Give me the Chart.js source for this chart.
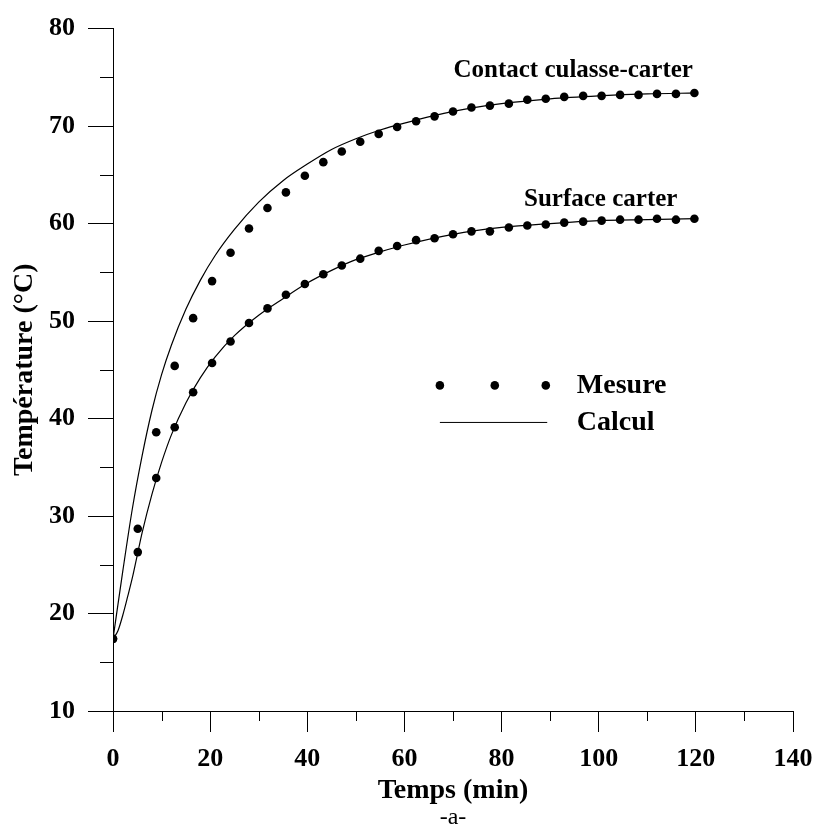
<!DOCTYPE html>
<html>
<head>
<meta charset="utf-8">
<script src="https://cdn.jsdelivr.net/npm/chart.js@4.4.1/dist/chart.umd.min.js"></script>
<style>
  body { margin: 0; background: #fff; }
  canvas { display: block; }
</style>
</head>
<body>
<canvas id="graphique" width="815" height="835"></canvas>
<script>
    // mesures (points)
    const tempsMesure = [0, 5.1, 8.9, 12.7, 16.5, 20.4, 24.2, 28.0, 31.8, 35.6, 39.5, 43.3, 47.1, 50.9, 54.7, 58.5,
        62.4, 66.2, 70.0, 73.8, 77.6, 81.5, 85.3, 89.1, 92.9, 96.8, 100.6, 104.4, 108.2, 112.0, 115.9, 119.7];
    const contactMesure = [17.4, 28.7, 38.6, 45.4, 50.3, 54.1, 57.0, 59.5, 61.6, 63.2, 64.9, 66.3, 67.4, 68.4, 69.2, 69.9,
        70.5, 71.0, 71.5, 71.9, 72.1, 72.3, 72.7, 72.8, 73.0, 73.1, 73.1, 73.2, 73.2, 73.3, 73.3, 73.4];
    const surfaceMesure = [17.4, 26.3, 33.9, 39.1, 42.7, 45.7, 47.9, 49.8, 51.3, 52.7, 53.8, 54.8, 55.7, 56.4, 57.2, 57.7,
        58.3, 58.5, 58.9, 59.2, 59.2, 59.6, 59.8, 59.9, 60.1, 60.2, 60.3, 60.4, 60.4, 60.5, 60.4, 60.5];

    // calcul (courbes)
    const tempsCalculContact = [0, 2, 4, 6, 8, 10, 12, 15, 18, 21, 25, 30, 35, 40, 45, 50, 55, 60, 70, 80, 90, 100, 110, 120];
    const contactCalcul = [17.4, 24.3, 30.8, 36.2, 40.8, 44.5, 47.5, 51.2, 54.2, 56.7, 59.4, 62.2, 64.4, 66.1, 67.6, 68.7,
        69.6, 70.3, 71.5, 72.3, 72.8, 73.1, 73.3, 73.4];
    const tempsCalculSurface = [0, 1, 2, 3, 4, 5, 6, 8, 10, 12, 15, 18, 21, 25, 30, 35, 40, 45, 50, 55, 60, 70, 80, 90, 100, 110, 120];
    const surfaceCalcul = [17.4, 18.2, 19.8, 21.7, 23.7, 26.0, 28.3, 32.2, 35.5, 38.3, 41.6, 44.2, 46.3, 48.5, 50.6, 52.3,
        53.9, 55.2, 56.3, 57.1, 57.8, 58.9, 59.6, 60.0, 60.3, 60.4, 60.5];

    const ticksX = [0, 20, 40, 60, 80, 100, 120, 140];
    const ticksY = [10, 20, 30, 40, 50, 60, 70, 80];

    const police = "'Liberation Serif', 'Times New Roman', serif";

    function paires(xs, ys) {
        return xs.map((v, i) => ({ x: v, y: ys[i] }));
    }

    const extras = {
        id: 'extras',
        afterDraw(chart) {
            const ctx = chart.ctx;
            const sx = chart.scales.x;
            const sy = chart.scales.y;
            ctx.save();
            ctx.strokeStyle = '#000';
            ctx.fillStyle = '#000';
            ctx.lineWidth = 1;

            // petites graduations
            sx.ticks.forEach(t => {
                if (ticksX.indexOf(t.value) < 0) {
                    const px = Math.round(sx.getPixelForValue(t.value)) + 0.5;
                    ctx.beginPath();
                    ctx.moveTo(px, sx.top);
                    ctx.lineTo(px, sx.top + 10);
                    ctx.stroke();
                }
            });
            sy.ticks.forEach(t => {
                if (ticksY.indexOf(t.value) < 0) {
                    const py = Math.round(sy.getPixelForValue(t.value)) + 0.5;
                    ctx.beginPath();
                    ctx.moveTo(sy.right - 13, py);
                    ctx.lineTo(sy.right, py);
                    ctx.stroke();
                }
            });

            // noms des courbes
            ctx.font = 'bold 25px ' + police;
            ctx.textAlign = 'right';
            ctx.textBaseline = 'middle';
            ctx.fillText('Contact culasse-carter', sx.getPixelForValue(119.4), sy.getPixelForValue(75.7));
            ctx.fillText('Surface carter', sx.getPixelForValue(116.2), sy.getPixelForValue(62.5));

            // légende
            [67.3, 78.6, 89.1].forEach(v => {
                ctx.beginPath();
                ctx.arc(sx.getPixelForValue(v), sy.getPixelForValue(43.4), 4.3, 0, Math.PI * 2);
                ctx.fill();
            });
            ctx.beginPath();
            ctx.moveTo(sx.getPixelForValue(67.3), sy.getPixelForValue(39.6));
            ctx.lineTo(sx.getPixelForValue(89.4), sy.getPixelForValue(39.6));
            ctx.stroke();
            ctx.font = 'bold 28px ' + police;
            ctx.textAlign = 'left';
            ctx.fillText('Mesure', sx.getPixelForValue(95.5), sy.getPixelForValue(43.4));
            ctx.fillText('Calcul', sx.getPixelForValue(95.5), sy.getPixelForValue(39.6));

            // sous-titre
            ctx.font = '24px ' + police;
            ctx.textAlign = 'center';
            ctx.fillText('-a-', (chart.chartArea.left + chart.chartArea.right) / 2, 818);
            ctx.restore();
        }
    };

    const pointsStyle = {
        showLine: false,
        pointRadius: 4.3,
        pointBackgroundColor: '#000',
        pointBorderColor: '#000',
        pointBorderWidth: 0
    };
    const ligneStyle = {
        showLine: true,
        pointRadius: 0,
        borderColor: '#000',
        borderWidth: 1.2,
        tension: 0.4,
        cubicInterpolationMode: 'monotone'
    };

    const config = {
        type: 'scatter',
        data: {
            datasets: [
                Object.assign({ label: 'Contact culasse-carter (calcul)', data: paires(tempsCalculContact, contactCalcul) }, ligneStyle),
                Object.assign({ label: 'Surface carter (calcul)', data: paires(tempsCalculSurface, surfaceCalcul) }, ligneStyle),
                Object.assign({ label: 'Contact culasse-carter (mesure)', data: paires(tempsMesure, contactMesure) }, pointsStyle),
                Object.assign({ label: 'Surface carter (mesure)', data: paires(tempsMesure, surfaceMesure) }, pointsStyle)
            ]
        },
        options: {
            responsive: false,
            animation: false,
            devicePixelRatio: 1,
            layout: { padding: { top: 23, right: 22, bottom: 24, left: 0 } },
            plugins: {
                legend: { display: false },
                tooltip: { enabled: false }
            },
            scales: {
                x: {
                    type: 'linear',
                    min: 0,
                    max: 140,
                    afterFit: s => { s.height = 100; s.paddingRight = 0; s.paddingLeft = 0; },
                    border: { display: true, color: '#000', width: 1 },
                    grid: {
                        drawOnChartArea: false,
                        tickLength: 21,
                        tickColor: c => ticksX.indexOf(c.tick.value) >= 0 ? '#000' : 'rgba(0,0,0,0)'
                    },
                    ticks: {
                        stepSize: 10,
                        autoSkip: false,
                        maxRotation: 0,
                        padding: 12,
                        color: '#000',
                        font: { family: police, size: 26, weight: 'bold' },
                        callback: v => ticksX.indexOf(v) >= 0 ? String(v) : ''
                    },
                    title: {
                        display: true,
                        text: 'Temps (min)',
                        color: '#000',
                        font: { family: police, size: 28, weight: 'bold' },
                        padding: { top: 0, bottom: 3 }
                    }
                },
                y: {
                    type: 'linear',
                    min: 10,
                    max: 80,
                    afterFit: s => { s.width = 113; },
                    border: { display: true, color: '#000', width: 1 },
                    grid: {
                        drawOnChartArea: false,
                        tickLength: 25,
                        tickColor: c => ticksY.indexOf(c.tick.value) >= 0 ? '#000' : 'rgba(0,0,0,0)'
                    },
                    ticks: {
                        stepSize: 5,
                        autoSkip: false,
                        padding: 13,
                        color: '#000',
                        font: { family: police, size: 26, weight: 'bold' },
                        callback: v => ticksY.indexOf(v) >= 0 ? String(v) : ''
                    },
                    title: {
                        display: true,
                        text: 'Température (°C)',
                        color: '#000',
                        font: { family: police, size: 28, weight: 'bold' },
                        padding: { top: 8, bottom: 0 }
                    }
                }
            }
        },
        plugins: [extras]
    };

    var graphique = new Chart(document.getElementById('graphique'), config);
</script>
</body>
</html>
